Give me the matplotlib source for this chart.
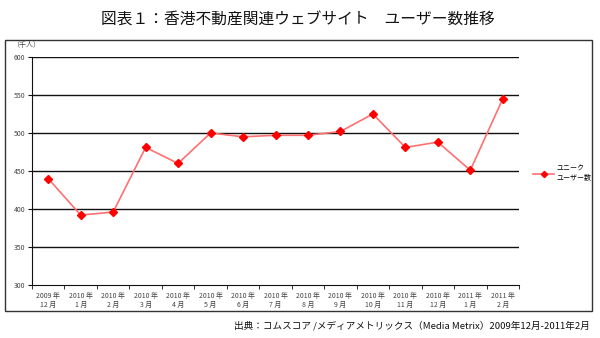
import matplotlib
matplotlib.use("Agg")
import matplotlib.pyplot as plt
from matplotlib.patches import Rectangle

plt.rcParams['font.family'] = ['Noto Sans CJK JP', 'DejaVu Sans']

categories = ["2009 年\n12 月", "2010 年\n1 月", "2010 年\n2 月", "2010 年\n3 月", "2010 年\n4 月",
              "2010 年\n5 月", "2010 年\n6 月", "2010 年\n7 月", "2010 年\n8 月", "2010 年\n9 月",
              "2010 年\n10 月", "2010 年\n11 月", "2010 年\n12 月", "2011 年\n1 月", "2011 年\n2 月"]
users = [440, 392, 396, 481, 460, 500, 495, 497, 497, 502, 525, 481, 488, 451, 545]
yticks = [300, 350, 400, 450, 500, 550, 600]

W, H = 600, 338
fig = plt.figure(figsize=(W/100, H/100), dpi=100)

# outer frame
fig.patches.append(Rectangle((5/W, 1-311/H), 587/W, 271/H, transform=fig.transFigure,
                             fill=False, edgecolor='#333333', linewidth=1.0))

ax = fig.add_axes([32/W, 1-285/H, 487/W, 228/H])
x = list(range(len(users)))
ax.plot(x, users, color='#ff7070', linewidth=1.2, marker='D', markersize=4.5,
        markerfacecolor='#ff0000', markeredgecolor='#ff0000', label='ユニーク\nユーザー数', zorder=3)
ax.set_xlim(-0.5, len(users)-0.5)
ax.set_ylim(300, 600)
ax.set_yticks(yticks)
ax.set_yticklabels([str(v) for v in yticks], fontsize=5, color='#444444')
for v in yticks[1:]:
    ax.axhline(v, color='#111111', linewidth=1.0, zorder=1)
ax.set_xticks(x)
ax.set_xticklabels(categories, fontsize=5, color='#444444', linespacing=1.2)
ax.tick_params(axis='x', length=0, pad=5)
ax.set_xticks([i + 0.5 for i in range(-1, len(users))], minor=True)
ax.tick_params(axis='x', which='minor', length=3, direction='out', color='#111111')
ax.tick_params(axis='y', length=3, direction='out', color='#111111', pad=2)
for s in ['top', 'right']:
    ax.spines[s].set_visible(False)
ax.spines['left'].set_color('#111111')
ax.spines['bottom'].set_color('#111111')

leg = ax.legend(loc='center left', bbox_to_anchor=(1.0 + 8/487, 0.49), frameon=False, fontsize=5,
                handlelength=3.0, handletextpad=0.4, markerscale=0.7)

fig.text(12/W, 1-45/H, '（千人）', fontsize=5, color='#444444', va='center', ha='left')
fig.text(298/W, 1-20/H, '図表１：香港不動産関連ウェブサイト　ユーザー数推移', fontsize=11.3,
         ha='center', va='center', color='#111111')
fig.text(590/W, 1-326/H, '出典：コムスコア /メディアメトリックス（Media Metrix）2009年12月-2011年2月',
         fontsize=6.9, ha='right', va='center', color='#111111')

fig.savefig('out.png', dpi=100)
